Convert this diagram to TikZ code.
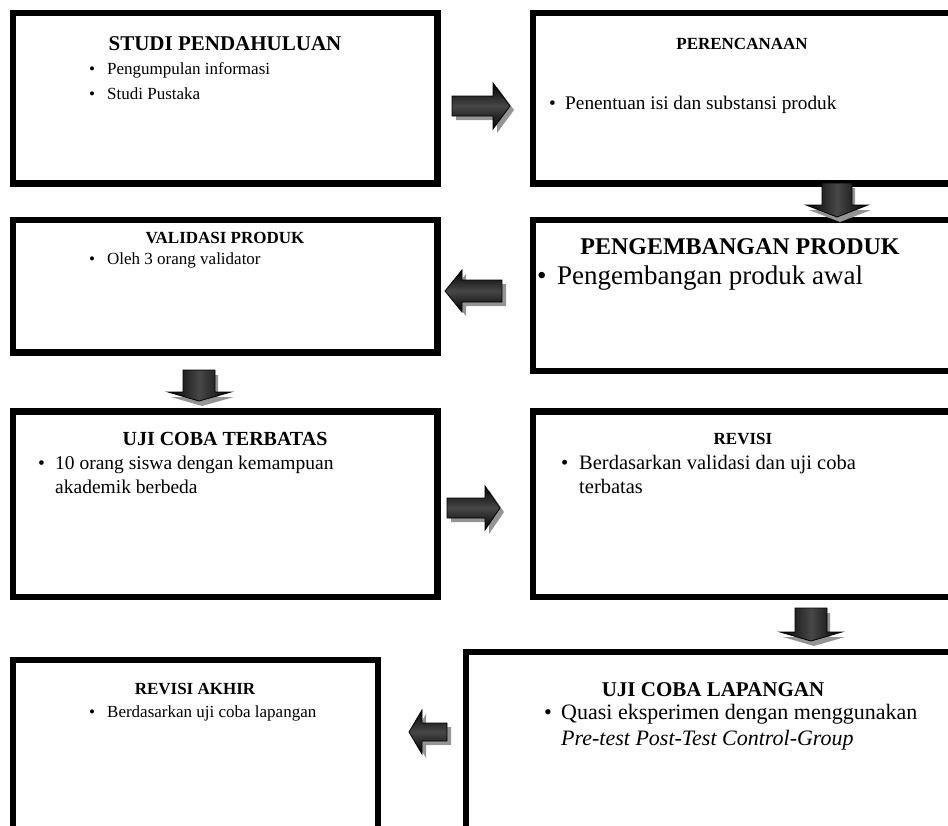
\documentclass[tikz,border=0pt]{standalone}
\usepackage{fontspec}
\setmainfont{Liberation Serif}
\begin{document}
\begin{tikzpicture}[x=1pt,y=-1pt,
  box/.style={draw=black,line width=6.5pt},
  ttl/.style={font=\bfseries\fontsize{17}{20}\selectfont,anchor=base,inner sep=0pt},
  txt/.style={font=\fontsize{17}{24}\selectfont,anchor=base west,inner sep=0pt},
  arrfill/.style={draw=black,line width=0.8pt,line join=miter,top color=black,bottom color=black,middle color=black!72},
  arrfillv/.style={draw=black,line width=0.8pt,line join=miter,left color=black,right color=black,middle color=black!72},
  arrshadow/.style={fill=black!42,draw=none}
]
\useasboundingbox (0,0) rectangle (948,825);
\clip (0,0) rectangle (948,825);
% boxes
\draw[box] (13,13) rectangle (437.5,183.5);
\draw[box] (533,13) rectangle (970,183.5);
\draw[box] (13,220) rectangle (437.5,352.5);
\draw[box] (533,220) rectangle (970,371);
\draw[box] (13,411.5) rectangle (437.5,597);
\draw[box] (533,411.5) rectangle (970,597);
\draw[box] (13,660) rectangle (378,850);
\draw[box] (466,652) rectangle (970,850);
% box 1
\node[ttl,font=\bfseries\fontsize{21}{24}\selectfont] (t1) at (225,50) {STUDI PENDAHULUAN};
\node[txt] (b1a) at (89,74) {\textbullet};
\node[txt] (x1a) at (107,74) {Pengumpulan informasi};
\node[txt] (b1b) at (89,99) {\textbullet};
\node[txt] (x1b) at (107,99) {Studi Pustaka};
% box 2
\node[ttl] (t2) at (742,49) {PERENCANAAN};
\node[txt,font=\fontsize{19.3}{24}\selectfont] (b2) at (549,109) {\textbullet};
\node[txt,font=\fontsize{19.3}{24}\selectfont] (x2) at (565,109) {Penentuan isi dan substansi produk};
% box 3
\node[ttl] (t3) at (225,243) {VALIDASI PRODUK};
\node[txt] (b3) at (89,264) {\textbullet};
\node[txt] (x3) at (107,264) {Oleh 3 orang validator};
% box 4
\node[ttl,font=\bfseries\fontsize{24}{28}\selectfont] (t4) at (740,254) {PENGEMBANGAN PRODUK};
\node[txt,font=\fontsize{27}{30}\selectfont] (b4) at (537,284) {\textbullet};
\node[txt,font=\fontsize{27}{30}\selectfont] (x4) at (557,284) {Pengembangan produk awal};
% box 5
\node[ttl,font=\bfseries\fontsize{20}{22}\selectfont] (t5) at (225,445) {UJI COBA TERBATAS};
\node[txt,font=\fontsize{19.5}{24}\selectfont] (b5) at (38,469) {\textbullet};
\node[txt,font=\fontsize{19.5}{24}\selectfont] (x5a) at (55,469) {10 orang siswa dengan kemampuan};
\node[txt,font=\fontsize{19.5}{24}\selectfont] (x5b) at (55,493) {akademik berbeda};
% box 6
\node[ttl] (t6) at (743,444) {REVISI};
\node[txt,font=\fontsize{20.5}{24}\selectfont] (b6) at (561,469) {\textbullet};
\node[txt,font=\fontsize{20.5}{24}\selectfont] (x6a) at (579,469) {Berdasarkan validasi dan uji coba};
\node[txt,font=\fontsize{20.5}{24}\selectfont] (x6b) at (579,493) {terbatas};
% box 7
\node[ttl] (t7) at (195,694) {REVISI AKHIR};
\node[txt] (b7) at (89,717) {\textbullet};
\node[txt] (x7) at (107,717) {Berdasarkan uji coba lapangan};
% box 8
\node[ttl,font=\bfseries\fontsize{21}{25}\selectfont] (t8) at (713,696) {UJI COBA LAPANGAN};
\node[txt,font=\fontsize{22}{26}\selectfont] (b8) at (544,719) {\textbullet};
\node[txt,font=\fontsize{22}{26}\selectfont] (x8a) at (561,719) {Quasi eksperimen dengan menggunakan};
\node[txt,font=\itshape\fontsize{22}{26}\selectfont] (x8b) at (561,745) {Pre-test Post-Test Control-Group};
% arrow 1 (right)
\begin{scope}[shift={(4,4)}]
\fill[arrshadow] (452,96) -- (493,96) -- (493,83) -- (510,106) -- (493,129) -- (493,116) -- (452,116) -- cycle;
\end{scope}
\path[arrfill] (452,96) -- (493,96) -- (493,83) -- (510,106) -- (493,129) -- (493,116) -- (452,116) -- cycle;
% arrow 3 (right)
\begin{scope}[shift={(4,4)}]
\fill[arrshadow] (447,498) -- (485,498) -- (485,486) -- (500,508) -- (485,530) -- (485,518) -- (447,518) -- cycle;
\end{scope}
\path[arrfill] (447,498) -- (485,498) -- (485,486) -- (500,508) -- (485,530) -- (485,518) -- (447,518) -- cycle;
% arrow 4 (left)
\begin{scope}[shift={(4,4)}]
\fill[arrshadow] (502,280) -- (462,280) -- (462,270) -- (445,291) -- (462,312) -- (462,302) -- (502,302) -- cycle;
\end{scope}
\path[arrfill] (502,280) -- (462,280) -- (462,270) -- (445,291) -- (462,312) -- (462,302) -- (502,302) -- cycle;
% arrow 7 (left)
\begin{scope}[shift={(4,4)}]
\fill[arrshadow] (447,723) -- (422,723) -- (422,710) -- (409,732) -- (422,754) -- (422,741) -- (447,741) -- cycle;
\end{scope}
\path[arrfill] (447,723) -- (422,723) -- (422,710) -- (409,732) -- (422,754) -- (422,741) -- (447,741) -- cycle;
% arrow 2 (down)
\begin{scope}[shift={(3,5)}]
\fill[arrshadow] (822,183) -- (852,183) -- (852,205) -- (868,205) -- (837,217) -- (806,205) -- (822,205) -- cycle;
\end{scope}
\path[arrfillv] (822,183) -- (852,183) -- (852,205) -- (868,205) -- (837,217) -- (806,205) -- (822,205) -- cycle;
% arrow 5 (down)
\begin{scope}[shift={(3,5)}]
\fill[arrshadow] (183,370) -- (215,370) -- (215,392) -- (231,392) -- (199,401) -- (168,392) -- (183,392) -- cycle;
\end{scope}
\path[arrfillv] (183,370) -- (215,370) -- (215,392) -- (231,392) -- (199,401) -- (168,392) -- (183,392) -- cycle;
% arrow 6 (down)
\begin{scope}[shift={(3,5)}]
\fill[arrshadow] (795,608) -- (827,608) -- (827,632) -- (842,632) -- (811,641) -- (780,632) -- (795,632) -- cycle;
\end{scope}
\path[arrfillv] (795,608) -- (827,608) -- (827,632) -- (842,632) -- (811,641) -- (780,632) -- (795,632) -- cycle;
\end{tikzpicture}
\end{document}
